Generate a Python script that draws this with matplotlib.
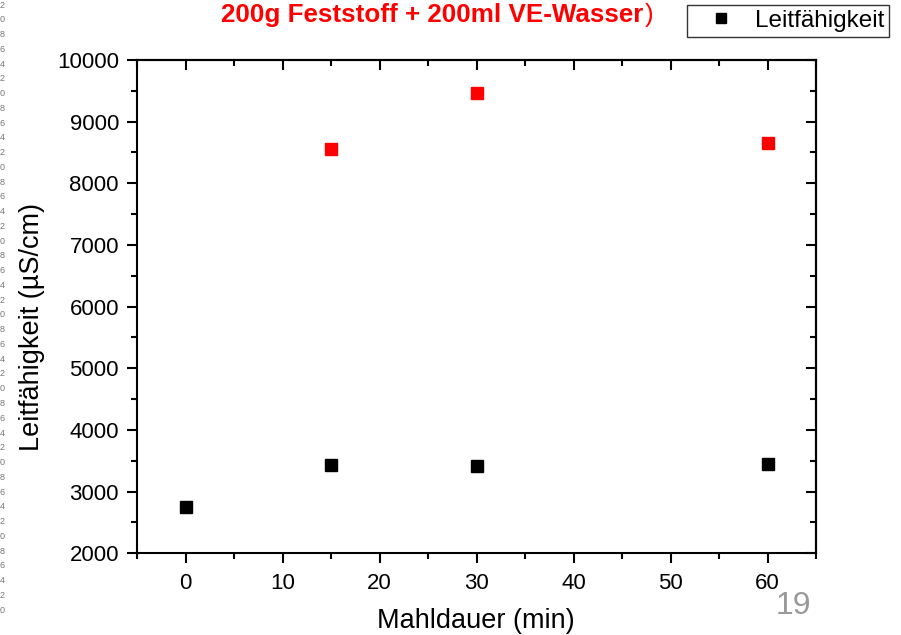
import matplotlib
matplotlib.use('Agg')
import matplotlib.pyplot as plt
from matplotlib.ticker import MultipleLocator
from matplotlib.lines import Line2D

plt.rcParams['font.family'] = ['Liberation Sans', 'DejaVu Sans']

# data
mahldauer_black = [0, 15, 30, 60]
leitf_black = [2750, 3440, 3415, 3455]
mahldauer_red = [15, 30, 60]
leitf_red = [8550, 9460, 8655]

title_text = '200g Feststoff + 200ml VE-Wasser'
legend_label = 'Leitfähigkeit'
xlabel = 'Mahldauer (min)'
ylabel = 'Leitfähigkeit (µS/cm)'
page_number = '19'
ruler_digits = [str((2 * i) % 10) for i in range(42)][::-1]

W, H = 901, 635
fig = plt.figure(figsize=(W / 100, H / 100), dpi=100)
ax = fig.add_axes([137 / W, 1 - 553.3 / H, (816 - 137) / W, (553.3 - 60) / H])

ax.plot(mahldauer_black, leitf_black, 's', color='black', markersize=8.5, linestyle='none')
ax.plot(mahldauer_red, leitf_red, 's', color='#ff0000', markersize=8.5, linestyle='none')

ax.set_xlim(-5, 65)
ax.set_ylim(2000, 10000)
ax.xaxis.set_major_locator(MultipleLocator(10))
ax.xaxis.set_minor_locator(MultipleLocator(5))
ax.yaxis.set_major_locator(MultipleLocator(1000))
ax.yaxis.set_minor_locator(MultipleLocator(500))

for s in ax.spines.values():
    s.set_linewidth(1.5)

# bottom/left ticks outward, top/right ticks inward
ax.tick_params(which='both', width=1.5, labelsize=16, colors='black')
ax.tick_params(axis='x', which='both', bottom=True, top=False, direction='out', pad=7)
ax.tick_params(axis='y', which='both', left=True, right=False, direction='out', pad=6)
ax.tick_params(which='major', length=7)
ax.tick_params(which='minor', length=4.3)

ax_top = ax.secondary_xaxis('top')
ax_top.xaxis.set_major_locator(MultipleLocator(10))
ax_top.xaxis.set_minor_locator(MultipleLocator(5))
ax_top.tick_params(which='both', direction='in', width=1.5, labeltop=False)
ax_top.tick_params(which='major', length=7)
ax_top.tick_params(which='minor', length=4.3)
ax_top.spines['top'].set_linewidth(1.5)

ax_right = ax.secondary_yaxis('right')
ax_right.yaxis.set_major_locator(MultipleLocator(1000))
ax_right.yaxis.set_minor_locator(MultipleLocator(500))
ax_right.tick_params(which='both', direction='in', width=1.5, labelright=False)
ax_right.tick_params(which='major', length=7)
ax_right.tick_params(which='minor', length=4.3)
ax_right.spines['right'].set_linewidth(1.5)

fig.text(476 / W, 1 - 621 / H, xlabel, fontsize=19.5, ha='center', va='center')
fig.text(32 / W, 1 - 327 / H, ylabel, fontsize=19.5, ha='center', va='center', rotation=90)

# title (cut off on the slide) and closing bracket in normal weight
fig.text(221 / W, 1 - 22 / H, title_text, fontsize=18.7, fontweight='bold',
         color='#ff0000', ha='left', va='baseline')
fig.text(645 / W, 1 - 22 / H, ')', fontsize=18.7, color='#ff0000', ha='left', va='baseline')

# legend box
handle = Line2D([], [], marker='s', color='black', linestyle='none', markersize=7)
leg = fig.legend([handle], [legend_label], loc='upper right',
                 bbox_to_anchor=(889 / W, 1 - 5 / H), fontsize=17.5, frameon=True,
                 fancybox=False, edgecolor='black', borderpad=0.2,
                 handletextpad=0.2, handlelength=2.4, borderaxespad=0)
leg.get_frame().set_linewidth(1.0)

# page number
fig.text(793 / W, 1 - 606 / H, page_number, fontsize=23, color='#999999',
         ha='center', va='center')

# clipped ruler digits on the left edge
for i, d in enumerate(ruler_digits):
    fig.text(0, 1 - (5 + i * 14.76) / H, d, fontsize=6.5, color='#777777',
             ha='left', va='center')

fig.savefig('out.png', dpi=100)
